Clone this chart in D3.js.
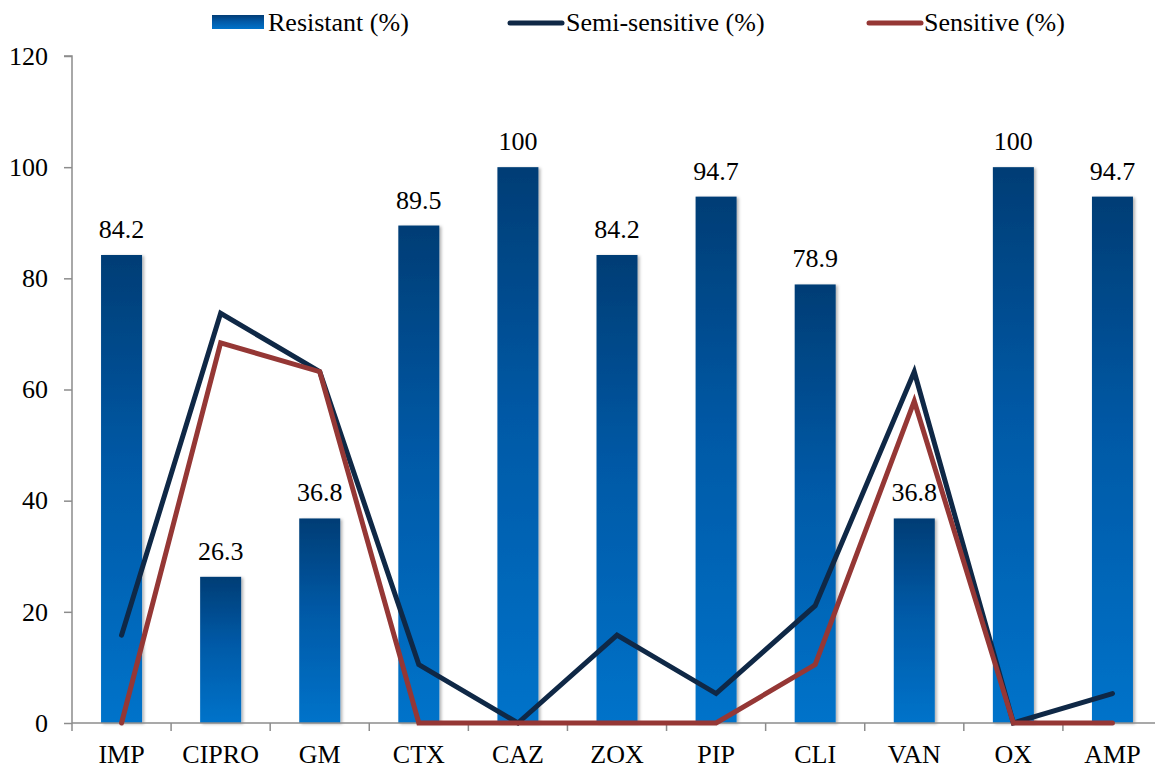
<!DOCTYPE html>
<html>
<head>
<meta charset="utf-8">
<script src="https://cdn.jsdelivr.net/npm/d3@7"></script>
<style>
  body { margin: 0; background: #fff; }
  svg { display: block; font-family: "Liberation Serif", "Times New Roman", serif; }
</style>
</head>
<body>
<svg id="chart" width="1155" height="768"></svg>
<script>
// Data
const categories = ['IMP', 'CIPRO', 'GM', 'CTX', 'CAZ', 'ZOX', 'PIP', 'CLI', 'VAN', 'OX', 'AMP'];
const resistant = [84.2, 26.3, 36.8, 89.5, 100, 84.2, 94.7, 78.9, 36.8, 100, 94.7];
const semiSensitive = [15.8, 73.7, 63.2, 10.5, 0, 15.8, 5.3, 21.1, 63.2, 0, 5.3];
const sensitive = [0, 68.4, 63.2, 0, 0, 0, 0, 10.5, 57.9, 0, 0];
const yTicks = [0, 20, 40, 60, 80, 100, 120];
const seriesNames = ['Resistant (%)', 'Semi-sensitive (%)', 'Sensitive (%)'];

// Configs
const configs = {
    left: 72,
    right: 1162,
    top: 56,
    bottom: 723,
    barWidth: 41,
    lineWidth: 5,
    semiColor: '#0f2846',
    sensColor: '#953735',
    axisColor: '#8c8c8c',
    fontSize: 26,
    fontFamily: '"Liberation Serif", "Times New Roman", serif'
};

const svg = d3.select('#chart');

// Gradient for bars
const defs = svg.append('defs');
const grad = defs.append('linearGradient')
    .attr('id', 'barGrad')
    .attr('x1', 0).attr('y1', 0)
    .attr('x2', 0).attr('y2', 1);
grad.append('stop').attr('offset', '0%').attr('stop-color', '#023d75');
grad.append('stop').attr('offset', '45%').attr('stop-color', '#0259a6');
grad.append('stop').attr('offset', '100%').attr('stop-color', '#0073ca');

const shadow = defs.append('filter')
    .attr('id', 'barShadow')
    .attr('x', '-20%').attr('y', '-5%')
    .attr('width', '150%').attr('height', '110%');
shadow.append('feDropShadow')
    .attr('dx', 2).attr('dy', 1)
    .attr('stdDeviation', 1.5)
    .attr('flood-color', '#000')
    .attr('flood-opacity', 0.3);

// Scales
const x = d3.scaleBand()
    .domain(categories)
    .range([configs.left, configs.right])
    .padding(0);
const y = d3.scaleLinear()
    .domain([0, 120])
    .range([configs.bottom, configs.top]);
const cx = d => x(d) + x.bandwidth() / 2;

// Bars
const rows = categories.map((c, i) => ({
    cat: c, res: resistant[i], semi: semiSensitive[i], sens: sensitive[i]
}));

svg.append('g')
    .selectAll('rect')
    .data(rows)
    .join('rect')
    .attr('x', d => cx(d.cat) - configs.barWidth / 2)
    .attr('y', d => y(d.res))
    .attr('width', configs.barWidth)
    .attr('height', d => y(0) - y(d.res))
    .attr('fill', 'url(#barGrad)')
    .attr('filter', 'url(#barShadow)');

// Value labels
svg.append('g')
    .selectAll('text')
    .data(rows)
    .join('text')
    .attr('x', d => cx(d.cat))
    .attr('y', d => y(d.res) - 17)
    .attr('text-anchor', 'middle')
    .attr('font-size', configs.fontSize)
    .attr('fill', '#000')
    .text(d => d.res);

// Axes
const yAxis = d3.axisLeft(y).tickValues(yTicks).tickSize(8).tickPadding(16);
const gy = svg.append('g')
    .attr('transform', `translate(${configs.left},0)`)
    .call(yAxis);
gy.select('.domain').attr('stroke', configs.axisColor).attr('stroke-width', 1.5)
    .attr('d', `M-8,${configs.top}H0V${configs.bottom}`);
gy.selectAll('.tick line').attr('stroke', configs.axisColor).attr('stroke-width', 1.5);
gy.selectAll('.tick text')
    .attr('font-size', configs.fontSize)
    .attr('font-family', configs.fontFamily)
    .attr('fill', '#000');

const xAxis = d3.axisBottom(x).tickSize(0).tickPadding(22);
const gx = svg.append('g')
    .attr('transform', `translate(0,${configs.bottom})`)
    .call(xAxis);
gx.select('.domain').attr('stroke', configs.axisColor).attr('stroke-width', 1.5)
    .attr('d', `M${configs.left},0H${configs.right}`);
gx.selectAll('.tick text')
    .attr('font-size', configs.fontSize)
    .attr('font-family', configs.fontFamily)
    .attr('fill', '#000');
// Band boundary ticks
const bounds = categories.map(c => x(c)).concat([configs.right]);
gx.append('g')
    .selectAll('line')
    .data(bounds)
    .join('line')
    .attr('x1', d => d).attr('x2', d => d)
    .attr('y1', 0).attr('y2', 8)
    .attr('stroke', configs.axisColor)
    .attr('stroke-width', 1.5);

// Lines
const lineGen = key => d3.line()
    .x(d => cx(d.cat))
    .y(d => y(d[key]));

svg.append('path')
    .datum(rows)
    .attr('d', lineGen('semi'))
    .attr('fill', 'none')
    .attr('stroke', configs.semiColor)
    .attr('stroke-width', configs.lineWidth)
    .attr('stroke-linecap', 'round')
    .attr('stroke-linejoin', 'miter');

svg.append('path')
    .datum(rows)
    .attr('d', lineGen('sens'))
    .attr('fill', 'none')
    .attr('stroke', configs.sensColor)
    .attr('stroke-width', configs.lineWidth)
    .attr('stroke-linecap', 'round')
    .attr('stroke-linejoin', 'miter');

// Legend
const legend = svg.append('g').attr('class', 'legend')
    .attr('font-size', configs.fontSize)
    .attr('font-family', configs.fontFamily);
legend.append('rect')
    .attr('x', 212).attr('y', 15)
    .attr('width', 52).attr('height', 14)
    .attr('fill', 'url(#barGrad)');
legend.append('text')
    .attr('x', 268).attr('y', 31)
    .text(seriesNames[0]);

legend.append('line')
    .attr('x1', 510).attr('x2', 562)
    .attr('y1', 23).attr('y2', 23)
    .attr('stroke', configs.semiColor)
    .attr('stroke-width', configs.lineWidth)
    .attr('stroke-linecap', 'round');
legend.append('text')
    .attr('x', 566).attr('y', 31)
    .text(seriesNames[1]);

legend.append('line')
    .attr('x1', 869).attr('x2', 921)
    .attr('y1', 23).attr('y2', 23)
    .attr('stroke', configs.sensColor)
    .attr('stroke-width', configs.lineWidth)
    .attr('stroke-linecap', 'round');
legend.append('text')
    .attr('x', 924).attr('y', 31)
    .text(seriesNames[2]);
</script>
</body>
</html>
